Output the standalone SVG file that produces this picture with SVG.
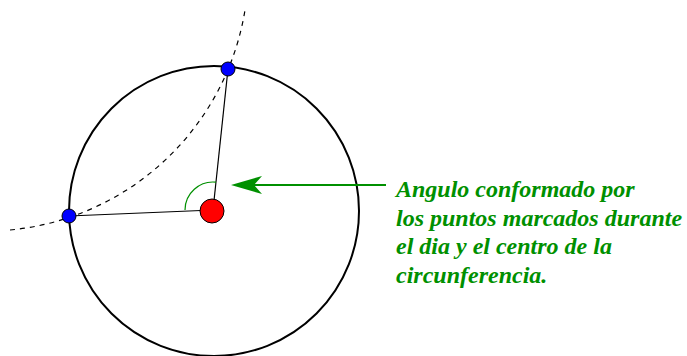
<svg xmlns="http://www.w3.org/2000/svg" width="687" height="356" viewBox="0 0 687 356">
<defs>
<style>
.lbl{font-family:"Liberation Serif",serif;font-weight:bold;font-style:italic;font-size:24px;fill:#009000}
.ln{stroke:#000;stroke-width:1.2;fill:none}
</style>
</defs>
<rect width="687" height="356" fill="#fff"/>
<g id="circle"><circle cx="214" cy="211" r="145" fill="none" stroke="#000" stroke-width="2"/></g>
<g id="path-arc"><path d="M10,230 A263,263 0 0 0 245,10" fill="none" stroke="#000" stroke-width="1.2" stroke-dasharray="5,5"/></g>
<g id="connectors">
<line class="ln" x1="213" y1="210" x2="228" y2="69"/>
<line class="ln" x1="213" y1="210" x2="69" y2="216"/>
<path d="M185,210 A28,28 0 0 1 216,182.2" fill="none" stroke="#009000" stroke-width="1.2"/>
<line x1="386" y1="185" x2="250" y2="185" stroke="#009000" stroke-width="2"/>
<path d="M231,185 L262,176 L254,185 L262,194 Z" fill="#009000"/>
</g>
<g id="center"><circle cx="212" cy="211" r="12" fill="#f00" stroke="#000" stroke-width="1"/></g>
<g id="p1"><circle cx="228" cy="69" r="7" fill="#00f" stroke="#000" stroke-width="1"/></g>
<g id="p2"><circle cx="69" cy="216" r="7" fill="#00f" stroke="#000" stroke-width="1"/></g>
<g id="label">
<text class="lbl" x="396" y="197">Angulo conformado por</text>
<text class="lbl" x="396" y="226">los puntos marcados durante</text>
<text class="lbl" x="396" y="254">el dia y el centro de la</text>
<text class="lbl" x="396" y="283">circunferencia.</text>
</g>
</svg>
